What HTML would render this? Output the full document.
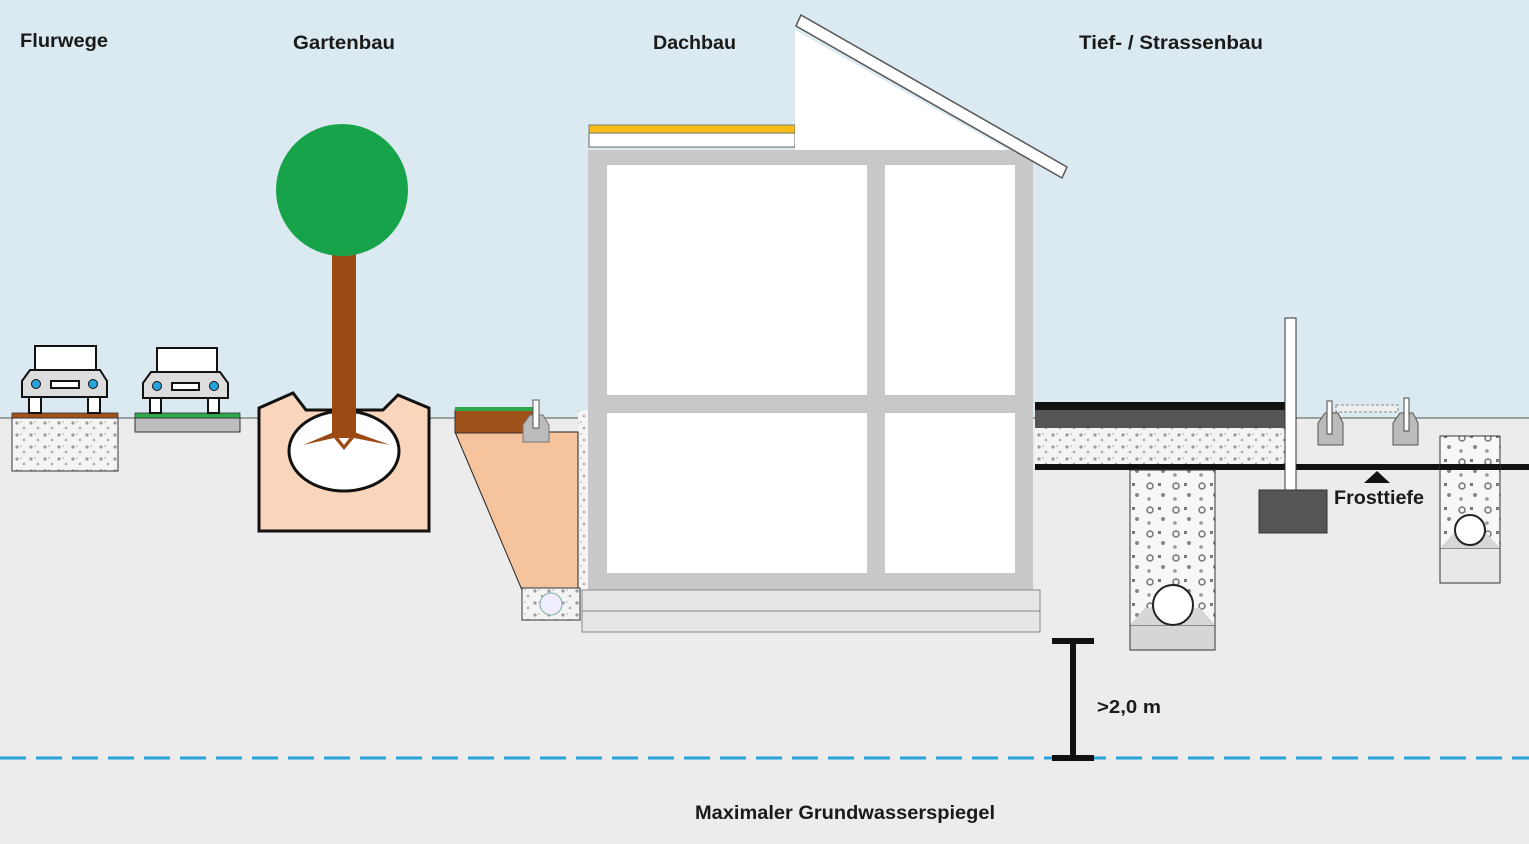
<!DOCTYPE html>
<html><head><meta charset="utf-8"><style>
html,body{margin:0;padding:0;background:#ececec}
svg{display:block}
text{font-family:"Liberation Sans",sans-serif;font-weight:bold;fill:#1a1a1a}
</style></head><body>
<svg width="1529" height="844" viewBox="0 0 1529 844" xmlns="http://www.w3.org/2000/svg">
<defs>
<pattern id="grav" width="14" height="12" patternUnits="userSpaceOnUse">
<rect width="14" height="12" fill="#f4f4f4"/>
<circle cx="3" cy="3" r="1.6" fill="#9a9a9a"/><circle cx="10" cy="8" r="1.3" fill="#aaa"/><circle cx="7" cy="2" r="0.9" fill="#bbb"/>
</pattern>
<pattern id="grav2" width="26" height="24" patternUnits="userSpaceOnUse">
<rect width="26" height="24" fill="#f7f7f7"/>
<circle cx="6" cy="6" r="3" fill="none" stroke="#777" stroke-width="1.5"/><circle cx="19" cy="15" r="2" fill="#888"/><rect x="14" y="3" width="3" height="3" fill="#777"/><circle cx="5" cy="19" r="1.8" fill="#999"/>
</pattern>
</defs>
<rect width="1529" height="844" fill="#ececec"/>
<rect width="1529" height="418" fill="#dbe9f0"/>
<line x1="0" y1="418" x2="1529" y2="418" stroke="#555" stroke-width="1"/>

<text x="20" y="47" font-size="19" textLength="88" lengthAdjust="spacingAndGlyphs">Flurwege</text>
<text x="293" y="49" font-size="19" textLength="102" lengthAdjust="spacingAndGlyphs">Gartenbau</text>
<text x="653" y="49" font-size="19" textLength="83" lengthAdjust="spacingAndGlyphs">Dachbau</text>
<text x="1079" y="49" font-size="19" textLength="184" lengthAdjust="spacingAndGlyphs">Tief- /  Strassenbau</text>

<!-- car 1 -->
<rect x="12" y="418" width="106" height="53" fill="url(#grav)" stroke="#333"/>
<rect x="12" y="413" width="106" height="5" fill="#a0521d" stroke="#333" stroke-width="0.8"/>
<rect x="29" y="395" width="12" height="18" fill="#fff" stroke="#111" stroke-width="2"/>
<rect x="88" y="395" width="12" height="18" fill="#fff" stroke="#111" stroke-width="2"/>
<polygon points="22,381 30,370 100,370 107,381 107,397 22,397" fill="#ddd" stroke="#111" stroke-width="2"/>
<rect x="35" y="346" width="61" height="24" fill="#fff" stroke="#111" stroke-width="2"/>
<circle cx="36" cy="384" r="4.5" fill="#29a3dc" stroke="#111"/><circle cx="93" cy="384" r="4.5" fill="#29a3dc" stroke="#111"/>
<rect x="51" y="381" width="28" height="7" fill="#fff" stroke="#111" stroke-width="2"/>
<!-- car 2 -->
<rect x="135" y="418" width="105" height="14" fill="#bdbdbd" stroke="#333"/>
<rect x="135" y="413" width="105" height="5" fill="#2ea84a" stroke="#333" stroke-width="0.8"/>
<rect x="150" y="396" width="11" height="17" fill="#fff" stroke="#111" stroke-width="2"/>
<rect x="208" y="396" width="11" height="17" fill="#fff" stroke="#111" stroke-width="2"/>
<polygon points="143,383 151,372 220,372 228,383 228,398 143,398" fill="#ddd" stroke="#111" stroke-width="2"/>
<rect x="157" y="348" width="60" height="24" fill="#fff" stroke="#111" stroke-width="2"/>
<circle cx="157" cy="386" r="4.5" fill="#29a3dc" stroke="#111"/><circle cx="214" cy="386" r="4.5" fill="#29a3dc" stroke="#111"/>
<rect x="172" y="383" width="27" height="7" fill="#fff" stroke="#111" stroke-width="2"/>

<!-- planter & tree -->
<polygon points="259,408 293,393 306,410 383,410 398,395 429,408 429,531 259,531" fill="#f8d5bb" stroke="#111" stroke-width="3"/>
<ellipse cx="344" cy="451" rx="55" ry="40" fill="#fff" stroke="#111" stroke-width="3"/>
<rect x="332" y="250" width="24" height="188" fill="#9c4a14"/>
<polygon points="303,445 334,432 344,445 354,432 390,445 354,438 344,450 334,438" fill="#9c4a14"/>
<circle cx="342" cy="190" r="66" fill="#17a349"/>

<!-- gutter / drainage near house -->
<rect x="578" y="410" width="12" height="180" fill="url(#grav)"/>
<polygon points="455,432 578,432 578,590 522,590" fill="#f6c49c" stroke="#222" stroke-width="1"/>
<rect x="455" y="410" width="80" height="23" fill="#a0521d" stroke="#333"/>
<rect x="455" y="407" width="80" height="4" fill="#2ea84a"/>
<polygon points="523,425 530,415 543,415 549,425 549,442 523,442" fill="#bbb" stroke="#777"/>
<rect x="533" y="400" width="6" height="28" fill="#fff" stroke="#555"/>
<rect x="522" y="588" width="58" height="32" fill="url(#grav)" stroke="#333"/>
<circle cx="551" cy="604" r="11" fill="#eef" stroke="#8aa"/>

<!-- house -->
<rect x="588" y="150" width="445" height="440" fill="#c8c8c8"/>
<rect x="607" y="165" width="260" height="230" fill="#fff"/>
<rect x="885" y="165" width="130" height="230" fill="#fff"/>
<rect x="607" y="413" width="260" height="160" fill="#fff"/>
<rect x="885" y="413" width="130" height="160" fill="#fff"/>
<rect x="582" y="590" width="458" height="21" fill="#e6e6e6" stroke="#888"/>
<rect x="582" y="611" width="458" height="21" fill="#e6e6e6" stroke="#888"/>
<!-- roof -->
<rect x="589" y="133" width="206" height="14" fill="#fff" stroke="#666"/>
<rect x="589" y="125" width="206" height="8" fill="#f7bd1a" stroke="#666" stroke-width="0.8"/>
<polygon points="795,30 1008,150 795,150" fill="#fff"/>
<polygon points="801,15 1067,167 1062,178 796,26" fill="#fff" stroke="#555" stroke-width="1.5"/>

<!-- road -->
<rect x="1035" y="428" width="250" height="37" fill="url(#grav)"/>
<rect x="1035" y="410" width="250" height="18" fill="#555"/>
<rect x="1035" y="402" width="250" height="8" fill="#111"/>
<rect x="1035" y="464" width="494" height="6" fill="#111"/>
<!-- trench -->
<rect x="1130" y="470" width="85" height="180" fill="url(#grav2)" stroke="#333"/>
<rect x="1130" y="625" width="85" height="25" fill="#d6d6d6" stroke="#333"/>
<polygon points="1130,625 1145,608 1200,608 1215,625" fill="#d6d6d6"/>
<circle cx="1173" cy="605" r="20" fill="#fff" stroke="#222" stroke-width="2"/>
<!-- post -->
<rect x="1285" y="318" width="11" height="172" fill="#fff" stroke="#333"/>
<rect x="1259" y="490" width="68" height="43" fill="#555" stroke="#333"/>
<!-- curbs -->
<polygon points="1318,423 1325,413 1338,413 1343,423 1343,445 1318,445" fill="#bbb" stroke="#555"/>
<polygon points="1393,423 1400,413 1413,413 1418,423 1418,445 1393,445" fill="#bbb" stroke="#555"/>
<rect x="1336" y="405" width="62" height="7" fill="#eee" stroke="#888" stroke-dasharray="3,2"/>
<rect x="1327" y="401" width="5" height="33" fill="#fff" stroke="#444"/>
<rect x="1404" y="398" width="5" height="33" fill="#fff" stroke="#444"/>
<polygon points="1364,483 1377,471 1390,483" fill="#111"/>
<text x="1334" y="504" font-size="19" textLength="90" lengthAdjust="spacingAndGlyphs">Frosttiefe</text>
<!-- right trench -->
<rect x="1440" y="436" width="60" height="147" fill="url(#grav2)" stroke="#333"/>
<rect x="1440" y="548" width="60" height="35" fill="#e8e8e8" stroke="#333"/>
<polygon points="1440,548 1455,532 1485,532 1500,548" fill="#d6d6d6"/>
<rect x="1440" y="464" width="60" height="6" fill="#111"/>
<circle cx="1470" cy="530" r="15" fill="#fff" stroke="#222" stroke-width="2"/>

<!-- water line & dimension -->
<line x1="0" y1="758" x2="1529" y2="758" stroke="#29a3dc" stroke-width="3" stroke-dasharray="26,10"/>
<rect x="1070" y="640" width="6" height="118" fill="#111"/>
<rect x="1052" y="638" width="42" height="6" fill="#111"/>
<rect x="1052" y="755" width="42" height="6" fill="#111"/>
<text x="1097" y="713" font-size="18" textLength="64" lengthAdjust="spacingAndGlyphs">&gt;2,0 m</text>
<text x="695" y="819" font-size="19" textLength="300" lengthAdjust="spacingAndGlyphs">Maximaler Grundwasserspiegel</text>
</svg>
</body></html>
